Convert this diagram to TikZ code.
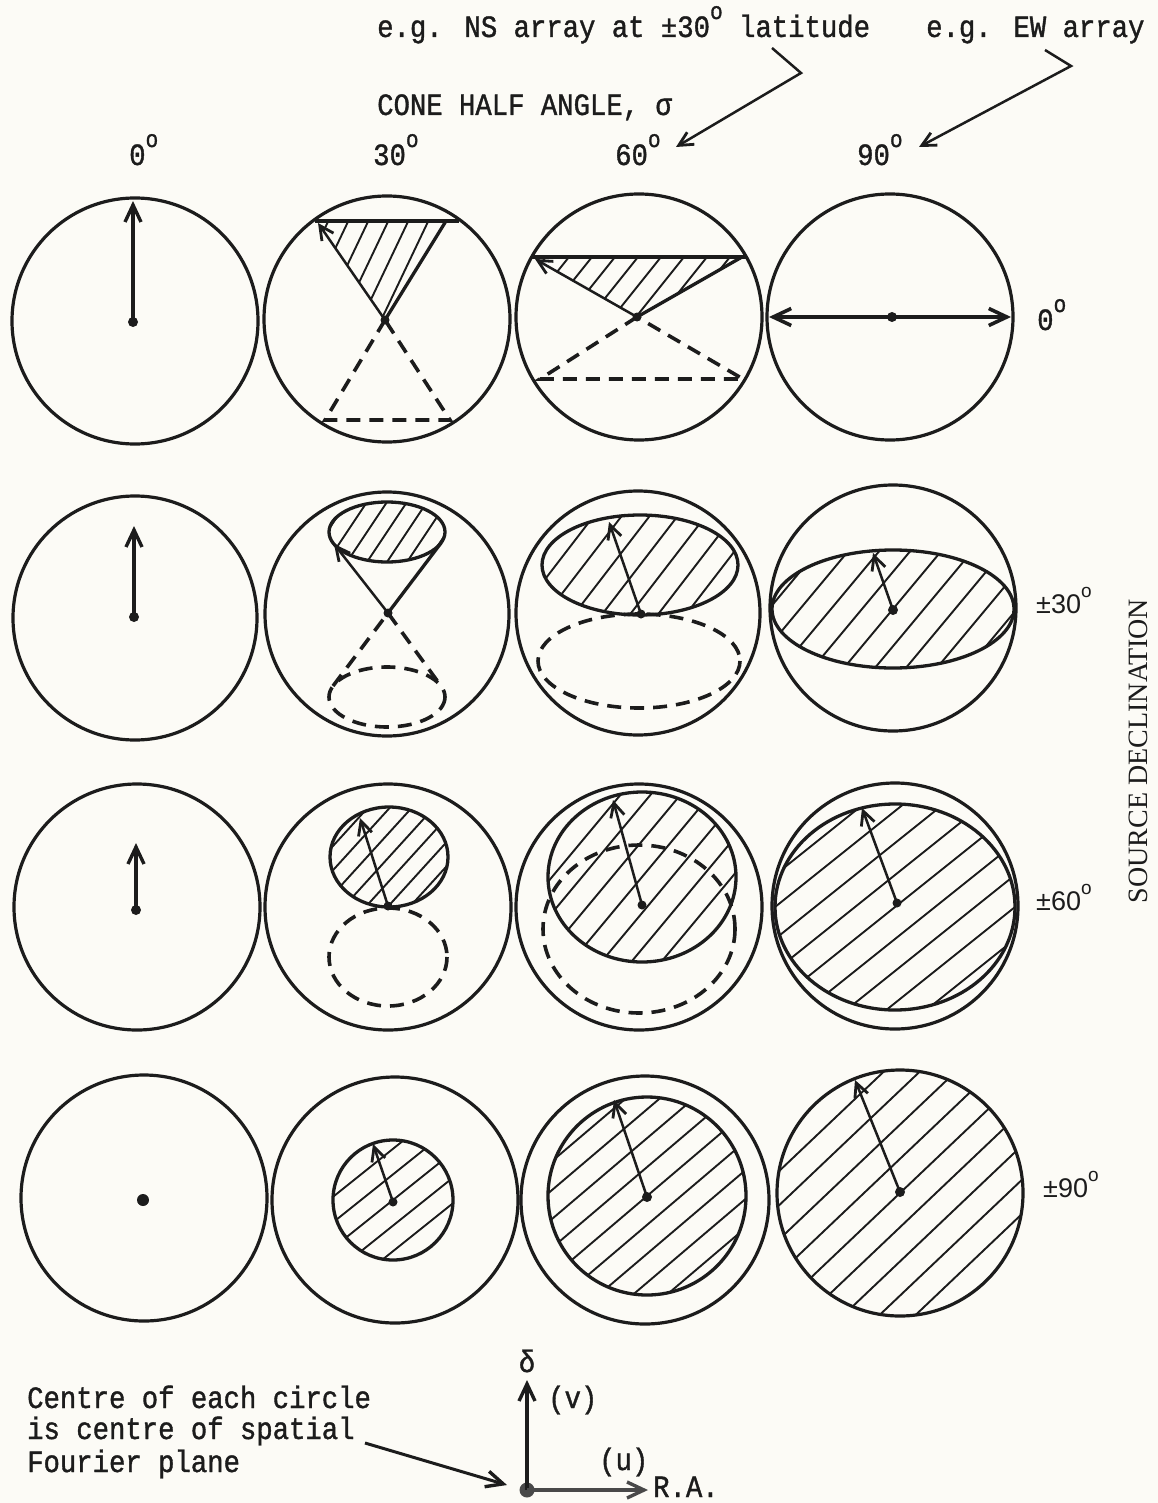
\documentclass[tikz,border=0pt]{standalone}
\usepackage{fontspec}
\usetikzlibrary{arrows.meta,calc}
\newfontfamily\twfont[FakeStretch=0.88,FakeBold=1.2]{Liberation Mono}
\newfontfamily\sfxfont{Liberation Sans}
\newfontfamily\rmxfont{Liberation Serif}
\definecolor{paper}{RGB}{252,251,246}
\definecolor{ink}{RGB}{28,28,28}
\newcommand{\hatchset}[4]{\foreach \k in {-18,...,18}{\draw[hl] ({#1+\k*#3-260},{#2+260*#4}) -- ({#1+\k*#3+260},{#2-260*#4});}}
\newcommand{\dg}[1]{\raisebox{0.58em}{\fontsize{#1}{#1}\selectfont o}}
\begin{document}
\begin{tikzpicture}[x=1pt,y=-1pt,
  circ/.style={line width=3.2pt,draw=ink},
  hl/.style={line width=1.9pt,draw=ink},
  rim/.style={line width=3.3pt,draw=ink},
  dsh/.style={line width=3.6pt,draw=ink,dash pattern=on 14pt off 9pt},
  arr/.style={line width=2.5pt,draw=ink,-{Straight Barb[length=14pt,width=14pt,line width=2.8pt]}},
  arrk/.style={line width=3.5pt,draw=ink,-{Straight Barb[length=17pt,width=16pt,line width=3.4pt]}},
  dotc/.style={fill=ink,circle,inner sep=0pt,minimum size=10pt},
  tw/.style={font=\twfont\fontsize{31}{36}\selectfont,inner sep=0pt,anchor=base west,text=ink},
  sfl/.style={font=\sfxfont\fontsize{27}{30}\selectfont,inner sep=0pt,anchor=base west,text=ink},
]
\fill[paper] (0,0) rectangle (1158,1503);
\useasboundingbox (0,0) rectangle (1158,1503);

% ---------- top texts ----------
\node[tw] (ns) at (377,37) {e.g. NS array at ±30\dg{24} latitude};
\node[tw] (ew) at (926,37) {e.g. EW array};
\node[tw] (cone) at (377,115) {CONE HALF ANGLE, σ};
\node[tw] (c1) at (129,165) {0\dg{24}};
\node[tw] (c2) at (373,165) {30\dg{24}};
\node[tw] (c3) at (615,165) {60\dg{24}};
\node[tw] (c4) at (857,165) {90\dg{24}};
\coordinate (nsa) at (772,48); \coordinate (nsb) at (801,73); \coordinate (nsc) at (676,147);
\coordinate (ewa) at (1045,50); \coordinate (ewb) at (1071,66); \coordinate (ewc) at (919,147);
\draw[arr] (nsa) -- (nsb) -- (nsc);
\draw[arr] (ewa) -- (ewb) -- (ewc);

% ---------- row labels ----------
\node[tw] (r1) at (1037,330) {0\dg{24}};
\node[sfl] (r2) at (1036,613) {±30\dg{19}};
\node[sfl] (r3) at (1036,910) {±60\dg{19}};
\node[sfl] (r4) at (1043,1197) {±90\dg{19}};
\node[font=\rmxfont\fontsize{28}{30}\selectfont,rotate=90,inner sep=0pt,text=ink] (sd) at (1138,751) {SOURCE DECLINATION};

% ================= ROW 1 (dec 0) =================
\draw[circ] (135,321) circle[radius=123];
\node[dotc] (d11) at (133,322) {};
\draw[arrk] (d11.center) -- (133,201);

\draw[circ] (387,319) circle[radius=123];
\begin{scope}\clip (385,320) -- (316,221) -- (446,221) -- cycle; \hatchset{385}{270}{20}{2.1}\end{scope}
\draw[rim] (315,221) -- (459,221);
\draw[rim] (385,320) -- (446,221);
\draw[arr] (385,320) -- (318,223);
\draw[dsh] (385,320) -- (325,420) -- (450,420) -- cycle;
\node[dotc,minimum size=9pt] (d12) at (385,320) {};

\draw[circ] (639,317) circle[radius=123];
\begin{scope}\clip (637,317) -- (533,258) -- (742,257) -- cycle; \hatchset{637}{287}{23}{1.25}\end{scope}
\draw[rim] (532,257) -- (746,257);
\draw[rim] (637,317) -- (742,257);
\draw[arr] (637,317) -- (535,259);
\draw[dsh] (637,317) -- (540,379) -- (743,379) -- cycle;
\node[dotc,minimum size=9pt] (d13) at (637,317) {};

\draw[circ] (890,317) circle[radius=123];
\draw[line width=4pt,draw=ink,{Straight Barb[length=18pt,width=17pt,line width=3.6pt]}-{Straight Barb[length=18pt,width=17pt,line width=3.6pt]}] (769,317) -- (1011,317);
\node[dotc] (d14) at (892,317) {};

% ================= ROW 2 (dec 30) =================
\draw[circ] (135,618) circle[radius=122];
\node[dotc] (d21) at (134,617) {};
\draw[arrk] (d21.center) -- (134,526);

\draw[circ] (387,614) circle[radius=122];
\begin{scope}\clip (387,532) ellipse[x radius=58,y radius=30]; \hatchset{387}{532}{20}{1.5}\end{scope}
\draw[rim] (387,532) ellipse[x radius=58,y radius=30];
\draw[rim] (441,543) -- (388,613);
\draw[arr] (388,613) -- (334,544);
\draw[dsh] (333,686) -- (388,613) -- (441,686);
\draw[dsh] (387,697) ellipse[x radius=58,y radius=30];
\node[dotc,minimum size=9pt] (d22) at (388,613) {};

\draw[circ] (638,613) circle[radius=122];
\begin{scope}\clip (640,565) ellipse[x radius=98,y radius=50]; \hatchset{640}{565}{28}{1.3}\end{scope}
\draw[rim] (640,565) ellipse[x radius=98,y radius=50];
\draw[dsh] (639,661) ellipse[x radius=101,y radius=47];
\node[dotc,minimum size=9pt] (d23) at (641,614) {};
\draw[arr] (d23.center) -- (609,522);

\draw[circ] (893,608) circle[radius=123];
\begin{scope}\clip (893,609) ellipse[x radius=121,y radius=59]; \hatchset{893}{609}{31}{1.2}\end{scope}
\draw[rim] (893,609) ellipse[x radius=121,y radius=59];
\node[dotc] (d24) at (893,610) {};
\draw[arr] (d24.center) -- (873,553);

% ================= ROW 3 (dec 60) =================
\draw[circ] (137,907) circle[radius=123];
\node[dotc] (d31) at (136,910) {};
\draw[arrk] (d31.center) -- (136,843);

\draw[circ] (388,907) circle[radius=123];
\begin{scope}\clip (389,857) ellipse[x radius=59,y radius=50]; \hatchset{389}{857}{22}{1.1}\end{scope}
\draw[rim] (389,857) ellipse[x radius=59,y radius=50];
\draw[dsh] (388,957) ellipse[x radius=59,y radius=49];
\node[dotc,minimum size=9pt] (d32) at (388,906) {};
\draw[arr] (d32.center) -- (360,818);

\draw[circ] (639,907) circle[radius=123];
\begin{scope}\clip (642,877) ellipse[x radius=94,y radius=85]; \hatchset{642}{877}{30}{1.2}\end{scope}
\draw[rim] (642,877) ellipse[x radius=94,y radius=85];
\draw[dsh] (639,929) ellipse[x radius=96,y radius=84];
\node[dotc,minimum size=9pt] (d33) at (642,905) {};
\draw[arr] (d33.center) -- (613,800);

\draw[circ] (895,906) circle[radius=123];
\begin{scope}\clip (895,907) ellipse[x radius=120,y radius=103]; \hatchset{895}{907}{40}{0.8}\end{scope}
\draw[rim] (895,907) ellipse[x radius=120,y radius=103];
\node[dotc,minimum size=9pt] (d34) at (897,903) {};
\draw[arr] (d34.center) -- (862,808);

% ================= ROW 4 (dec 90) =================
\draw[circ] (144,1198) circle[radius=123];
\node[dotc,minimum size=12pt] (d41) at (143,1200) {};

\draw[circ] (395,1200) circle[radius=123];
\begin{scope}\clip (393,1200) circle[radius=60]; \hatchset{393}{1200}{32}{0.8}\end{scope}
\draw[rim] (393,1200) circle[radius=60];
\node[dotc,minimum size=9pt] (d42) at (393,1202) {};
\draw[arr] (d42.center) -- (373,1144);

\draw[circ] (645,1200) circle[radius=124];
\begin{scope}\clip (647,1196) circle[radius=99]; \hatchset{647}{1196}{34}{0.85}\end{scope}
\draw[rim] (647,1196) circle[radius=99];
\node[dotc] (d43) at (647,1197) {};
\draw[arr] (d43.center) -- (614,1100);

\begin{scope}\clip (900,1193) circle[radius=123]; \hatchset{900}{1193}{36}{0.95}\end{scope}
\draw[circ] (900,1193) circle[radius=123];
\node[dotc] (d44) at (900,1192) {};
\draw[arr] (d44.center) -- (855,1080);

% ================= bottom legend =================
\node[tw] (ct1) at (27,1408) {Centre of each circle};
\node[tw] (ct2) at (27,1439) {is centre of spatial};
\node[tw] (ct3) at (27,1472) {Fourier plane};
\node[dotc,minimum size=15pt,fill=ink!80] (o) at (527,1490) {};
\coordinate (ps) at (365,1443);
\coordinate (pe) at (507,1485);
\draw[arrk,line width=3pt] (ps) -- (pe);
\coordinate (vy) at (527,1380);
\coordinate (vx) at (648,1490);
\draw[arrk] (o.center) -- (vy);
\draw[arrk,draw=ink!80] (o.center) -- (vx);
\node[tw,anchor=base] (delta) at (527,1372) {δ};
\node[tw] (vlab) at (548,1408) {(v)};
\node[tw] (ulab) at (599,1470) {(u)};
\node[tw] (ra) at (653,1497) {R.A.};
\end{tikzpicture}
\end{document}
